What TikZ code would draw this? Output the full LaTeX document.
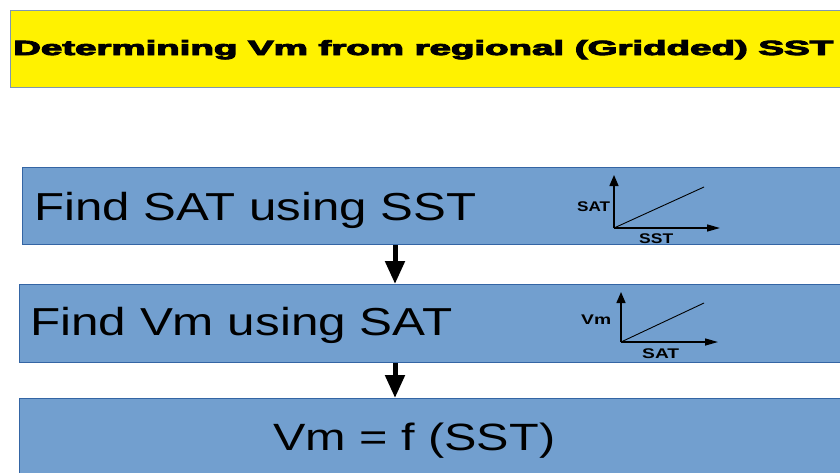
\documentclass[tikz,border=0pt]{standalone}
\usepackage{fontspec}
\setmainfont{Liberation Sans}
\newfontfamily\blackfont[FakeBold=4]{Liberation Sans Bold}
\usetikzlibrary{arrows.meta}
\definecolor{boxfill}{HTML}{729FCF}
\definecolor{boxline}{HTML}{3465A4}
\definecolor{titleline}{HTML}{7F97B2}
\tikzset{
  x=1pt, y=-1pt,
  stepbox/.style={draw=boxline, fill=boxfill, line width=1.3pt, rectangle, anchor=north west, inner sep=0pt},
  titlebox/.style={draw=titleline, fill=yellow, line width=1.3pt, rectangle, anchor=north west, inner sep=0pt},
  bigtext/.style={anchor=base west, inner sep=0pt, font=\fontsize{39}{46}\selectfont},
  smalltext/.style={anchor=base west, inner sep=0pt, font=\fontsize{14}{16}\selectfont\bfseries},
  flowarrow/.style={line width=5pt, -{Triangle[width=19pt,length=23pt]}},
  axis/.style={line width=1.4pt, -{Triangle[width=9pt,length=11pt]}},
  xaxis/.style={line width=1.4pt, -{Triangle[width=7pt,length=13pt]}},
  trend/.style={line width=0.9pt}
}
\begin{document}
\begin{tikzpicture}
\clip (0,0) rectangle (840,472);
\fill[white] (0,0) rectangle (840,472);

% title
\node[titlebox, minimum width=850pt, minimum height=77pt] (title) at (10,10) {};
\node[anchor=base west, inner sep=0pt] (titletext) at (13,55)
  {\resizebox{820pt}{\height}{\blackfont\fontsize{20.5}{24}\selectfont Determining Vm from regional (Gridded) SST}};

% boxes
\node[stepbox, minimum width=840pt, minimum height=77pt] (box1) at (22,167) {};
\node[stepbox, minimum width=840pt, minimum height=78pt] (box2) at (19,284) {};
\node[stepbox, minimum width=840pt, minimum height=90pt] (box3) at (19,398) {};

\node[bigtext] (t1) at (34,220) {\resizebox{442pt}{\height}{Find SAT using SST}};
\node[bigtext] (t2) at (30,335) {\resizebox{422pt}{\height}{Find Vm using SAT}};
\node[anchor=base west, inner sep=0pt] (t3) at (273,450)
  {\resizebox{282pt}{\height}{\fontsize{38}{45}\selectfont Vm = f (SST)}};

% connectors
\coordinate (ax) at (395,0);
\draw[flowarrow] (box1.south -| ax) -- (box2.north -| ax);
\draw[flowarrow] (box2.south -| ax) -- (box3.north -| ax);

% plot 1
\coordinate (o1) at (614,228);
\draw[axis] (o1) -- (614,175);
\draw[xaxis] (o1) -- (720,228);
\draw[trend] (o1) -- (704,187);
\node[smalltext] (l1) at (577,211) {\resizebox{33pt}{\height}{SAT}};
\node[smalltext] (l2) at (639,243) {\resizebox{34pt}{\height}{SST}};

% plot 2
\coordinate (o2) at (621,342);
\draw[axis] (o2) -- (621,292);
\draw[xaxis] (o2) -- (718,342);
\draw[trend] (o2) -- (704,303);
\node[smalltext] (l3) at (581,324) {\resizebox{30pt}{\height}{Vm}};
\node[smalltext] (l4) at (642,358) {\resizebox{37pt}{\height}{SAT}};
\end{tikzpicture}
\end{document}
